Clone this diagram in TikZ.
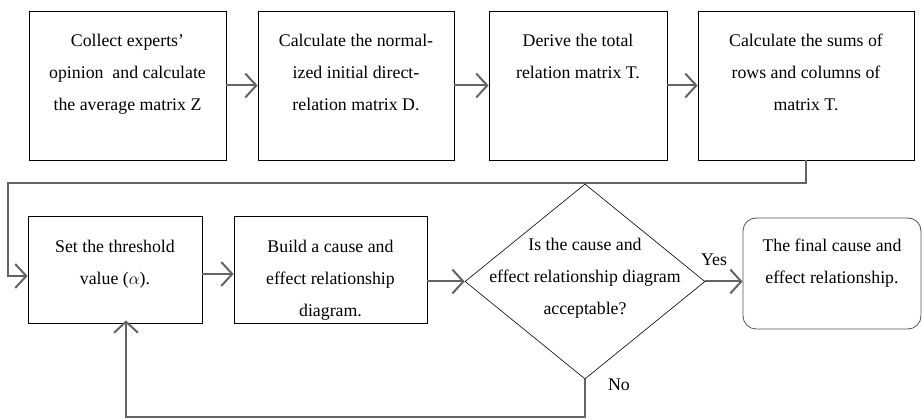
\documentclass[tikz,border=0pt]{standalone}
\usepackage{fontspec}
\setmainfont{Liberation Serif}
\usepackage{tikz}
\usetikzlibrary{arrows.meta,positioning,calc,shapes.geometric}
\definecolor{flgris}{RGB}{100,100,100}
\tikzset{
  stepbox/.style={draw=black, line width=0.8pt, inner sep=0pt},
  steptxt/.style={anchor=north, align=center, inner sep=0pt,
                  font=\fontsize{17.8}{32}\selectfont},
  flow/.style={draw=flgris, line width=2pt,
               -{Straight Barb[length=11pt,width=24pt,line width=2pt]}}
}

\begin{document}
\begin{tikzpicture}[x=1pt,y=-1pt]
  \useasboundingbox (0,0) rectangle (922,419);

  % Top row
  \node[stepbox, minimum width=197pt, minimum height=149pt] (collect) at (127.5,85.5) {};
  \node[stepbox, minimum width=196pt, minimum height=149pt] (normalize) at (356,85.5) {};
  \node[stepbox, minimum width=178pt, minimum height=149pt] (total) at (578,85.5) {};
  \node[stepbox, minimum width=216pt, minimum height=149pt] (sums) at (806,85.5) {};

  \node[steptxt] (collecttxt) at ([yshift=-23pt]collect.north)
    {Collect experts'\\opinion~ and calculate\\the average matrix Z};
  \node[steptxt] (normalizetxt) at ([yshift=-23pt]normalize.north)
    {Calculate the normal-\\ized initial direct-\\relation matrix D.};
  \node[steptxt] (totaltxt) at ([yshift=-23pt]total.north)
    {Derive the total\\relation matrix T.};
  \node[steptxt] (sumstxt) at ([yshift=-23pt]sums.north)
    {Calculate the sums of\\rows and columns of\\matrix T.};

  % Bottom row
  \node[stepbox, minimum width=174pt, minimum height=107pt] (threshold) at (115,269.5) {};
  \node[stepbox, minimum width=193pt, minimum height=107pt] (build) at (330.5,269.5) {};
  \node[diamond, draw=black, line width=0.6pt, inner sep=0pt,
        minimum width=240pt, minimum height=195pt] (decide) at (585,281.5) {};
  \node[stepbox, rounded corners=13pt, draw=flgris!80!black,
        minimum width=178pt, minimum height=111pt] (final) at (832,273.5) {};

  \node[steptxt] (thresholdtxt) at ([yshift=-24pt]threshold.north)
    {Set the threshold\\value ($\alpha$).};
  \node[steptxt] (buildtxt) at ([yshift=-24pt]build.north)
    {Build a cause and\\effect relationship\\diagram.};
  \node[steptxt] (decidetxt) at (585,237.5)
    {Is the cause and\\effect relationship diagram\\acceptable?};
  \node[steptxt] (finaltxt) at ([yshift=-21pt]final.north)
    {The final cause and\\effect relationship.};

  % Connectors
  \draw[flow] (collect.east) -- (normalize.west);
  \draw[flow] (normalize.east) -- (total.west);
  \draw[flow] (total.east) -- (sums.west);

  \coordinate (backleft) at (8,183);
  \draw[flow] (sums.south) |- (backleft) |- ([yshift=-6.5pt]threshold.west);

  \draw[flow] ([yshift=-4.5pt]threshold.east) -- ([yshift=-4.5pt]build.west);
  \draw[flow] (build.east |- decide.west) -- (decide.west);
  \draw[flow] (decide.east) -- (decide.east -| final.west);

  \coordinate (backlow) at (126,417);
  \draw[flow] (decide.south) |- (backlow) -- ([yshift=3pt]backlow |- threshold.south);

  % Labels
  \node[font=\fontsize{17.8}{20}\selectfont] (yes) at (714,260) {Yes};
  \node[font=\fontsize{17.8}{20}\selectfont] (no) at (619,385) {No};
\end{tikzpicture}
\end{document}
